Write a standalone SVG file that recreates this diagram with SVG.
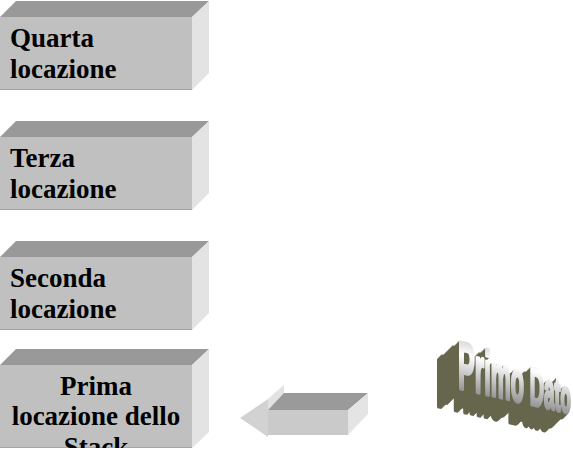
<svg xmlns="http://www.w3.org/2000/svg" width="573" height="453" viewBox="0 0 573 453">
<style>
.front{fill:#C0C0C0}
.top{fill:#999999}
.side{fill:#E3E3E3}
.edge{stroke:#A6A6A6;stroke-width:1}
.lbl{font-family:"Liberation Serif","Times New Roman",serif;font-weight:bold;font-size:27px;fill:#000}
.wa{font-family:"Liberation Sans",Arial,sans-serif;font-weight:bold;fill:url(#metal);stroke:url(#metal);stroke-width:2.2;stroke-linejoin:round}
</style>
<defs>
<linearGradient id="metal" x1="0" y1="0" x2="0" y2="1">
<stop offset="0" stop-color="#B8B8B8"/>
<stop offset="0.35" stop-color="#FFFFFF"/>
<stop offset="1" stop-color="#6E6E6E"/>
</linearGradient>
<clipPath id="clipPrima"><rect x="0" y="365" width="192" height="83"/></clipPath>
<filter id="extrude" x="-40%" y="-40%" width="180%" height="180%">
<feOffset in="SourceAlpha" dx="-1.1" dy="0.9" result="o1"/>
<feOffset in="SourceAlpha" dx="-2.2" dy="1.8" result="o2"/>
<feOffset in="SourceAlpha" dx="-3.3" dy="2.7" result="o3"/>
<feOffset in="SourceAlpha" dx="-4.4" dy="3.6" result="o4"/>
<feOffset in="SourceAlpha" dx="-5.5" dy="4.5" result="o5"/>
<feOffset in="SourceAlpha" dx="-6.6" dy="5.4" result="o6"/>
<feOffset in="SourceAlpha" dx="-7.7" dy="6.3" result="o7"/>
<feOffset in="SourceAlpha" dx="-8.8" dy="7.2" result="o8"/>
<feOffset in="SourceAlpha" dx="-9.9" dy="8.1" result="o9"/>
<feOffset in="SourceAlpha" dx="-11" dy="9" result="o10"/>
<feOffset in="SourceAlpha" dx="-12.1" dy="9.9" result="o11"/>
<feOffset in="SourceAlpha" dx="-13.2" dy="10.8" result="o12"/>
<feOffset in="SourceAlpha" dx="-14.3" dy="11.7" result="o13"/>
<feOffset in="SourceAlpha" dx="-15.4" dy="12.6" result="o14"/>
<feOffset in="SourceAlpha" dx="-16.5" dy="13.5" result="o15"/>
<feOffset in="SourceAlpha" dx="-17.6" dy="14.4" result="o16"/>
<feOffset in="SourceAlpha" dx="-18.7" dy="15.3" result="o17"/>
<feOffset in="SourceAlpha" dx="-19.8" dy="16.2" result="o18"/>
<feOffset in="SourceAlpha" dx="-20.9" dy="17.1" result="o19"/>
<feOffset in="SourceAlpha" dx="-22" dy="18" result="o20"/>
<feMerge result="ext"><feMergeNode in="o1"/><feMergeNode in="o2"/><feMergeNode in="o3"/><feMergeNode in="o4"/><feMergeNode in="o5"/><feMergeNode in="o6"/><feMergeNode in="o7"/><feMergeNode in="o8"/><feMergeNode in="o9"/><feMergeNode in="o10"/><feMergeNode in="o11"/><feMergeNode in="o12"/><feMergeNode in="o13"/><feMergeNode in="o14"/><feMergeNode in="o15"/><feMergeNode in="o16"/><feMergeNode in="o17"/><feMergeNode in="o18"/><feMergeNode in="o19"/><feMergeNode in="o20"/></feMerge>
<feFlood flood-color="#66664E"/>
<feComposite operator="in" in2="ext" result="extc"/>
<feMerge><feMergeNode in="extc"/><feMergeNode in="SourceGraphic"/></feMerge>
</filter>
</defs>
<rect width="573" height="453" fill="#FFFFFF"/>

<g id="quarta">
<polygon class="top" points="0,17 16,1 209,1 192,17"/>
<polygon class="side" points="192,17 209,1 209,73 192,90"/>
<rect class="front" x="0" y="17" width="192" height="73"/>
<line class="edge" x1="0" y1="89.5" x2="192" y2="89.5"/>
<text class="lbl" x="10" y="47">Quarta</text>
<text class="lbl" x="10" y="78">locazione</text>
</g>

<g id="terza">
<polygon class="top" points="0,137 16,121 209,121 192,137"/>
<polygon class="side" points="192,137 209,121 209,193 192,210"/>
<rect class="front" x="0" y="137" width="192" height="73"/>
<line class="edge" x1="0" y1="209.5" x2="192" y2="209.5"/>
<text class="lbl" x="10" y="167">Terza</text>
<text class="lbl" x="10" y="198">locazione</text>
</g>

<g id="seconda">
<polygon class="top" points="0,257 16,241 209,241 192,257"/>
<polygon class="side" points="192,257 209,241 209,313 192,330"/>
<rect class="front" x="0" y="257" width="192" height="73"/>
<line class="edge" x1="0" y1="329.5" x2="192" y2="329.5"/>
<text class="lbl" x="10" y="287">Seconda</text>
<text class="lbl" x="10" y="318">locazione</text>
</g>

<g id="prima">
<polygon class="top" points="0,365 16,349 209,349 192,365"/>
<polygon class="side" points="192,365 209,349 209,432 192,448"/>
<rect class="front" x="0" y="365" width="192" height="83"/>
<line class="edge" x1="0" y1="447.5" x2="192" y2="447.5"/>
<g clip-path="url(#clipPrima)">
<text class="lbl" x="96" y="395" text-anchor="middle">Prima</text>
<text class="lbl" x="96" y="425" text-anchor="middle">locazione dello</text>
<text class="lbl" x="96" y="456" text-anchor="middle">Stack</text>
</g>
</g>

<g id="connectors">
<g id="arrow">
<polygon fill="#E2E2E2" points="268,399 284,385 284,393 268,410"/>
<polygon fill="#D2D2D2" points="240,418 268,399 268,437"/>
<polygon fill="#9A9A9A" points="268,410 284,393 368,393 348,410"/>
<rect fill="#CACACA" x="268" y="410" width="80" height="25"/>
<polygon fill="#E4E4E4" points="348,410 368,393 368,414 348,435"/>
</g>
</g>

<g id="primo-dato" filter="url(#extrude)">
<text class="wa" transform="matrix(0.6,0.135,0,1.6,458,388)"><tspan font-size="42">P</tspan><tspan font-size="40.5">r</tspan><tspan font-size="39">i</tspan><tspan font-size="37.5">m</tspan><tspan font-size="36">o</tspan><tspan font-size="34.5"> </tspan><tspan font-size="33">D</tspan><tspan font-size="31.5">a</tspan><tspan font-size="30">t</tspan><tspan font-size="28.5">o</tspan></text>
</g>
</svg>
